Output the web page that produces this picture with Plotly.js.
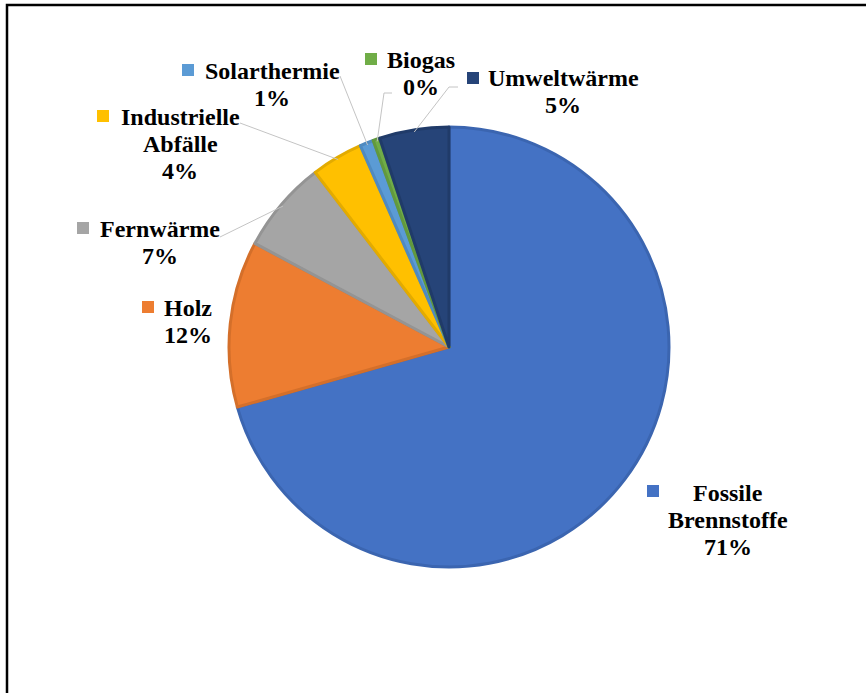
<!DOCTYPE html>
<html>
<head>
<meta charset="utf-8">
<script src="https://cdn.plot.ly/plotly-3.0.1.min.js"></script>
<style>
  html, body { margin: 0; padding: 0; background: #ffffff; }
  #chart { width: 866px; height: 693px; }
</style>
</head>
<body>
<div id="chart"></div>
<script>
// ---- data ----
const categories = ["Fossile Brennstoffe", "Holz", "Fernwärme", "Industrielle Abfälle", "Solarthermie", "Biogas", "Umweltwärme"];
const values = [70.6, 12.2, 6.8, 3.8, 1.0, 0.5, 5.1];
const pctLabels = ["71%", "12%", "7%", "4%", "1%", "0%", "5%"];
const labelLines = [
  ["Fossile", "Brennstoffe"],
  ["Holz"],
  ["Fernwärme"],
  ["Industrielle", "Abfälle"],
  ["Solarthermie"],
  ["Biogas"],
  ["Umweltwärme"]
];
const fillColors = ["#4472C4", "#ED7D31", "#A5A5A5", "#FFC000", "#5B9BD5", "#70AD47", "#264478"];
const edgeColors = ["#3B65B0", "#D46F2A", "#949494", "#E3AB00", "#4F8AC0", "#62993D", "#203B69"];

// ---- layout geometry (pixels) ----
const W = 866, H = 693;
const cx = 449, cy = 347, R = 220;
const px = x => x / W;
const py = y => 1 - y / H;

// label block: center x, first-line center y, legend key center
const labelPos = [
  {x: 728, y: 493, kx: 653, ky: 491},
  {x: 188, y: 308, kx: 148, ky: 307},
  {x: 160, y: 229, kx: 83,  ky: 228},
  {x: 180, y: 117, kx: 103, ky: 116},
  {x: 272, y: 71,  kx: 188, ky: 70},
  {x: 421, y: 60,  kx: 371, ky: 59},
  {x: 563, y: 78,  kx: 473, ky: 78}
];
const lineGap = 27;
// leader line outer points (pixels), null = no leader
const leaderOuter = [
  null,
  null,
  [[220, 237]],
  [[240, 123]],
  [[340, 76]],
  [[392, 93], [384, 93]],
  [[458, 87], [449, 87]]
];

const font = {family: "Times New Roman", size: 24, color: "#000000"};

const annotations = [];
const shapes = [];

// border of the figure box
shapes.push({type: "path", xref: "paper", yref: "paper",
  path: `M ${px(7)} ${py(H)} L ${px(7)} ${py(5)} L ${px(W)} ${py(5)}`,
  line: {color: "#000000", width: 2.5}});

const total = values.reduce((a, b) => a + b, 0);
let cum = 0;
categories.forEach((c, i) => {
  const mid = (cum + values[i] / 2) / total;
  cum += values[i];
  const lines = labelLines[i].concat([pctLabels[i]]);
  const p = labelPos[i];
  lines.forEach((t, j) => {
    annotations.push({xref: "paper", yref: "paper", x: px(p.x), y: py(p.y + j * lineGap),
      xanchor: "center", yanchor: "middle", showarrow: false, text: "<b>" + t + "</b>", font: font});
  });
  // legend key square
  shapes.push({type: "rect", xref: "paper", yref: "paper",
    x0: px(p.kx - 6), x1: px(p.kx + 6), y0: py(p.ky + 6), y1: py(p.ky - 6),
    fillcolor: fillColors[i], line: {width: 0}});
  // leader line
  if (leaderOuter[i]) {
    const th = 2 * Math.PI * mid;
    const ex = cx + R * 0.99 * Math.sin(th);
    const ey = cy - R * 0.99 * Math.cos(th);
    const pts = leaderOuter[i].concat([[ex, ey]]);
    const path = pts.map((q, k) => (k ? "L " : "M ") + px(q[0]) + " " + py(q[1])).join(" ");
    shapes.push({type: "path", xref: "paper", yref: "paper", path: path,
      line: {color: "#C4C4C4", width: 1}});
  }
});

const trace = {
  type: "pie",
  labels: categories,
  values: values,
  sort: false,
  direction: "clockwise",
  rotation: 0,
  textinfo: "none",
  hoverinfo: "label+percent",
  marker: {colors: fillColors, line: {color: edgeColors, width: 3}},
  domain: {x: [px(cx - R), px(cx + R)], y: [py(cy + R), py(cy - R)]},
  showlegend: false
};

const layout = {
  width: W, height: H,
  margin: {l: 0, r: 0, t: 0, b: 0},
  paper_bgcolor: "#ffffff",
  plot_bgcolor: "#ffffff",
  showlegend: false,
  annotations: annotations,
  shapes: shapes
};

Plotly.newPlot("chart", [trace], layout, {displayModeBar: false, staticPlot: true});
</script>
</body>
</html>
